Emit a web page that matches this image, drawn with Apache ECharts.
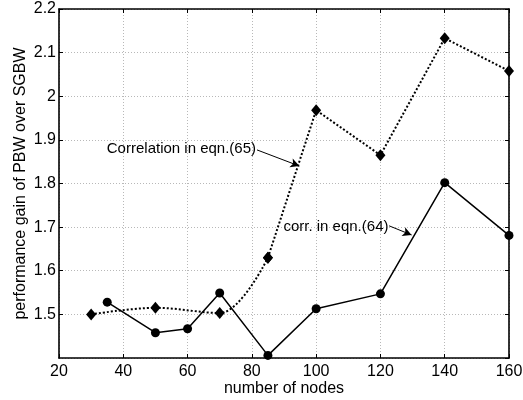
<!DOCTYPE html>
<html>
<head>
<meta charset="utf-8">
<script src="https://cdn.jsdelivr.net/npm/echarts@6/dist/echarts.min.js"></script>
<style>html,body{margin:0;padding:0;background:#fff}#c{width:523px;height:400px}</style>
</head>
<body>
<div id="c"></div>
<script>
// Data
var nodes65 = [30, 50, 70, 85, 100, 120, 140, 160];
var gain65  = [1.500, 1.515, 1.503, 1.630, 1.968, 1.865, 2.133, 2.058];
var nodes64 = [35, 50, 60, 70, 85, 100, 120, 140, 160];
var gain64  = [1.528, 1.458, 1.467, 1.549, 1.406, 1.513, 1.547, 1.802, 1.681];
var xTicks = [20, 40, 60, 80, 100, 120, 140, 160];
var yTicks = [1.5, 1.6, 1.7, 1.8, 1.9, 2.0, 2.1, 2.2];
var label65 = 'Correlation in eqn.(65)';
var label64 = 'corr. in eqn.(64)';

function pairs(xs, ys) { return xs.map(function (x, i) { return [x, ys[i]]; }); }
var d65 = pairs(nodes65, gain65);
var d64 = pairs(nodes64, gain64);
// dotted line drawn curved for the first part, straight afterwards
var d65a = d65.slice(0, 4);
var d65b = d65.slice(3);

var FONT = '"Liberation Sans", Arial, sans-serif';
var grid = {left: 59, right: 14, top: 9, bottom: 42, outerBoundsMode: 'none', containLabel: false};
var split = {show: true, lineStyle: {color: '#b8b8b8', type: [1, 2], width: 1}};
var axLine = {show: true, onZero: false, lineStyle: {color: '#000', width: 1.6}};
var tick = {show: true, inside: true, length: 4, lineStyle: {color: '#000', width: 1}};

var chart = echarts.init(document.getElementById('c'), null, {renderer: 'canvas'});
chart.setOption({
  animation: false,
  backgroundColor: '#fff',
  grid: grid,
  xAxis: [{
    type: 'value', min: xTicks[0], max: xTicks[xTicks.length - 1], interval: 20,
    position: 'bottom',
    name: 'number of nodes', nameLocation: 'middle', nameGap: 23, nameMoveOverlap: false,
    nameTextStyle: {fontFamily: FONT, fontSize: 16, color: '#000'},
    axisLine: axLine, axisTick: tick, splitLine: split,
    axisLabel: {fontFamily: FONT, fontSize: 16, color: '#000', margin: 6}
  }, {
    type: 'value', min: xTicks[0], max: xTicks[xTicks.length - 1], interval: 20,
    position: 'top',
    axisLine: axLine, axisTick: tick, splitLine: {show: false}, axisLabel: {show: false}
  }],
  yAxis: [{
    type: 'value', min: 1.4, max: yTicks[yTicks.length - 1], interval: 0.1,
    position: 'left',
    name: 'performance gain of PBW over SGBW', nameLocation: 'middle', nameGap: 30, nameMoveOverlap: false,
    nameTextStyle: {fontFamily: FONT, fontSize: 16, color: '#000', verticalAlign: 'bottom'},
    axisLine: axLine, axisTick: tick, splitLine: split,
    axisLabel: {fontFamily: FONT, fontSize: 16, color: '#000', margin: 3, showMinLabel: false,
      formatter: function (v) { return String(Math.round(v * 10) / 10); }}
  }, {
    type: 'value', min: 1.4, max: yTicks[yTicks.length - 1], interval: 0.1,
    position: 'right',
    axisLine: axLine, axisTick: tick, splitLine: {show: false}, axisLabel: {show: false}
  }],
  series: [{
    type: 'line', data: d65a, smooth: 0.35, xAxisIndex: 0, yAxisIndex: 0,
    symbol: 'diamond', symbolSize: [10, 12],
    itemStyle: {color: '#000'},
    lineStyle: {color: '#000', width: 2, type: [2, 2]},
    z: 3
  }, {
    type: 'line', data: d65b, xAxisIndex: 0, yAxisIndex: 0,
    symbol: 'diamond', symbolSize: [10, 12],
    itemStyle: {color: '#000'},
    lineStyle: {color: '#000', width: 2, type: [2, 2]},
    z: 3,
    markLine: {
      silent: true, symbol: ['none', 'arrow'], symbolSize: [7, 9],
      lineStyle: {color: '#000', width: 1, type: 'solid'}, label: {show: false},
      data: [[{coord: [81.6, 1.877]}, {coord: [94.8, 1.840]}],
             [{coord: [122.7, 1.703]}, {coord: [129.7, 1.682]}]]
    },
    markPoint: {
      silent: true, symbol: 'circle', symbolSize: 0,
      label: {show: true, position: 'left', distance: 0, fontFamily: FONT, fontSize: 15, color: '#000'},
      data: [{coord: [81.3, 1.879], value: label65, label: {formatter: label65}},
             {coord: [122.5, 1.701], value: label64, label: {formatter: label64}}]
    }
  }, {
    type: 'line', data: d64, xAxisIndex: 0, yAxisIndex: 0,
    symbol: 'circle', symbolSize: 9,
    itemStyle: {color: '#000'},
    lineStyle: {color: '#000', width: 1.5, type: 'solid'},
    z: 4
  }]
});
</script>
</body>
</html>
